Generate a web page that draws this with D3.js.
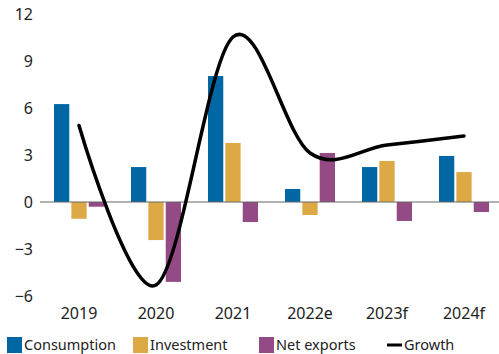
<!DOCTYPE html>
<html><head><meta charset="utf-8">
<script src="https://cdn.jsdelivr.net/npm/d3@7"></script>
<style>body{margin:0;background:#fff}svg{display:block}text{font-family:"Noto Sans",sans-serif;fill:#222}</style>
</head><body><div id="chart"></div>
<script>
const categories = ["2019","2020","2021","2022e","2023f","2024f"];
const consumption = [6.25, 2.23, 8.04, 0.83, 2.23, 2.94];
const investment = [-1.07, -2.43, 3.77, -0.83, 2.62, 1.91];
const netExports = [-0.3, -5.1, -1.28, 3.13, -1.21, -0.64];
const growth = [4.88, -5.3, 10.53, 3.13, 3.64, 4.21];
const yTicks = [-6, -3, 0, 3, 6, 9, 12];
const seriesNames = ["Consumption","Investment","Net exports"];
const colors = ["#0067a5","#dca945","#944b85"];

const W = 499, H = 354;
const svg = d3.select("#chart").append("svg").attr("width", W).attr("height", H);
const x0 = d3.scaleBand().domain(categories).range([40.5, 502.5]).padding(0);
const x1 = d3.scaleBand().domain(seriesNames).range([0, 50]).paddingInner(0.12).paddingOuter(0);
const y = d3.scaleLinear().domain([-6, 12]).range([296, 14]);

const seriesData = [consumption, investment, netExports];
const groupOffset = (x0.bandwidth() - 50) / 2;

// y tick labels
const yAxis = d3.axisLeft(y).tickValues(yTicks).tickSize(0).tickPadding(0).tickFormat(d3.format("d"));
const ga = svg.append("g").attr("transform", "translate(33,0)").call(yAxis);
ga.select(".domain").remove();
ga.selectAll("text").style("font-size", "16px").attr("fill", "#222").style("font-family", "Noto Sans");

// bars
seriesNames.forEach((s, si) => {
  svg.append("g").selectAll("rect").data(categories).join("rect")
    .attr("x", c => x0(c) + groupOffset + x1(s))
    .attr("width", x1.bandwidth())
    .attr("y", (c, i) => y(Math.max(0, seriesData[si][i])))
    .attr("height", (c, i) => Math.abs(y(seriesData[si][i]) - y(0)))
    .attr("fill", colors[si]);
});

// zero line
svg.append("line").attr("x1", 40).attr("x2", 499).attr("y1", y(0)).attr("y2", y(0))
  .attr("stroke", "#666").attr("stroke-width", 1);

// growth line
const line = d3.line().x((d, i) => x0(categories[i]) + x0.bandwidth() / 2).y(d => y(d))
  .curve(d3.curveCardinal.tension(0));
svg.append("path").datum(growth).attr("d", line).attr("fill", "none")
  .attr("stroke", "#000").attr("stroke-width", 3.5).attr("stroke-linecap", "round");

// x labels
const xAxis = d3.axisBottom(x0).tickSize(0).tickPadding(0);
const gx = svg.append("g").attr("transform", "translate(0,308)").call(xAxis);
gx.select(".domain").remove();
gx.selectAll("text").style("font-size", "16px").attr("fill", "#222").style("font-family", "Noto Sans");

// legend
const legendItems = [
  {name: "Consumption", color: colors[0], type: "rect", x: 7},
  {name: "Investment", color: colors[1], type: "rect", x: 133},
  {name: "Net exports", color: colors[2], type: "rect", x: 259},
  {name: "Growth", color: "#000", type: "line", x: 387}
];
const lg = svg.append("g");
legendItems.forEach(it => {
  if (it.type === "rect") {
    lg.append("rect").attr("x", it.x).attr("y", 337).attr("width", 15).attr("height", 16).attr("fill", it.color);
  } else {
    lg.append("line").attr("x1", it.x).attr("x2", it.x + 15).attr("y1", 345).attr("y2", 345)
      .attr("stroke", it.color).attr("stroke-width", 3);
  }
  lg.append("text").attr("x", it.x + 17).attr("y", 350).style("font-size", "14.5px").text(it.name);
});
</script></body></html>
